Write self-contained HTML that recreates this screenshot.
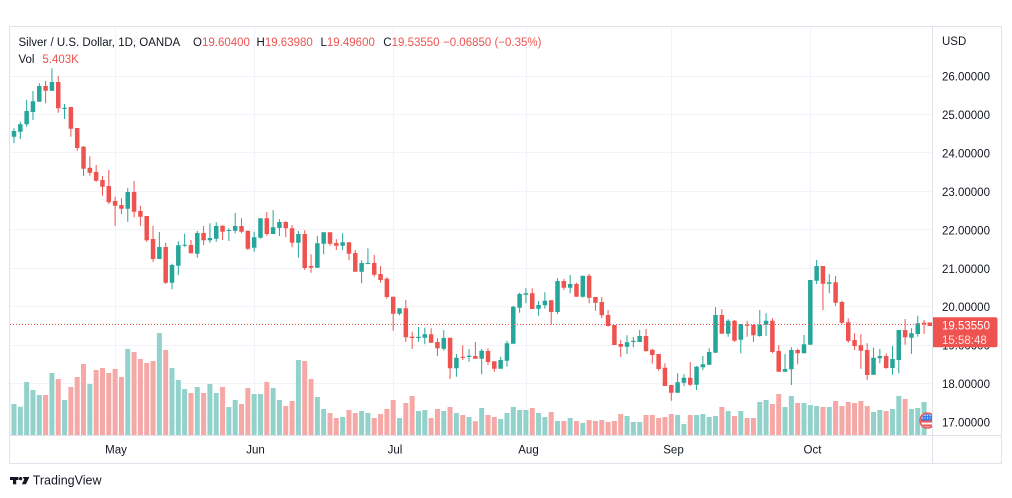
<!DOCTYPE html>
<html>
<head>
<meta charset="utf-8">
<style>
html,body{margin:0;padding:0;background:#fff;}
body{width:1012px;height:498px;overflow:hidden;}
svg{display:block;}
text{font-family:"Liberation Sans",Arial,sans-serif;}
</style>
</head>
<body>
<svg width="1012" height="498" viewBox="0 0 1012 498" xmlns="http://www.w3.org/2000/svg">
<defs>
<clipPath id="pane"><rect x="10" y="27" width="922" height="408"/></clipPath>
<clipPath id="flagc"><circle cx="927.5" cy="420.5" r="6.5"/></clipPath>
</defs>
<rect x="0" y="0" width="1012" height="498" fill="#fff"/>

<!-- grid -->
<g stroke="#f0f3fa" stroke-width="1">
<path d="M10 76.5H932M10 114.5H932M10 152.5H932M10 191.5H932M10 229.5H932M10 268.5H932M10 306.5H932M10 345.5H932M10 383.5H932M10 422.5H932"/>
<path d="M115.5 27V435M254.5 27V435M393.5 27V435M526.5 27V435M671.5 27V435M810.5 27V435"/>
</g>

<g clip-path="url(#pane)">
<g transform="translate(14,0) scale(6.32,1)" fill="none">
<!-- volume teal -->
<path stroke="#92d2cb" stroke-width="5" vector-effect="non-scaling-stroke" d="M-1 383.3V435M0 404V435M1 406.7V435M2 382V435M3 390V435M4 395V435M6 373V435M8 400V435M12 384V435M18 349V435M23 333V435M25 368V435M26 380V435M27 389V435M29 387V435M31 384V435M32 393V435M34 407V435M35 400V435M38 394V435M39 394V435M41 388V435M42 400V435M45 360V435M48 397V435M49 409V435M52 417V435M55 411V435M56 413V435M61 418V435M64 411V435M65 410V435M68 411V435M70 413V435M72 417V435M74 408V435M77 419V435M78 413V435M79 407V435M80 410V435M81 410V435M83 413V435M84 417V435M86 421V435M88 418V435M90 423V435M97 416V435M98 422V435M99 422V435M105 415V435M106 424V435M108 415V435M109 414V435M110 417V435M111 416V435M113 411V435M115 411V435M118 402V435M119 400V435M122 407V435M123 396V435M125 403V435M126 405V435M127 406V435M129 407V435M136 412V435M137 410V435M139 409V435M140 396V435M142 409V435M143 408V435M144 402V435"/>
<!-- volume red -->
<path stroke="#f6a8a6" stroke-width="5" vector-effect="non-scaling-stroke" d="M5 395V435M7 379V435M9 387V435M10 377V435M11 364V435M13 370V435M14 368V435M15 373V435M16 369V435M17 377V435M19 352V435M20 359V435M21 363V435M22 361V435M24 350V435M28 393V435M30 393V435M33 387V435M36 404V435M37 388V435M40 382V435M43 406V435M44 401V435M46 361V435M47 379V435M50 413V435M51 418V435M53 410V435M54 413V435M57 418V435M58 414V435M59 409V435M60 400V435M62 403V435M63 396V435M66 418V435M67 409V435M69 407V435M71 415V435M73 421.3V435M75 415V435M76 417V435M82 408V435M85 412V435M87 421V435M89 421V435M91 420V435M92 421V435M93 420V435M94 422V435M95 421V435M96 414V435M100 415V435M101 415V435M102 418V435M103 417V435M104 414V435M107 415V435M112 407V435M114 416V435M116 418V435M117 418V435M120 404V435M121 394V435M124 403V435M128 407V435M130 401V435M131 406V435M132 402V435M133 403V435M134 401V435M135 406V435M138 411V435M141 399V435"/>

<!-- teal wicks -->
<path stroke="#26a69a" stroke-width="1" vector-effect="non-scaling-stroke" d="M-1 133V145M0 128.3V143.3M1 121.7V139M2 100V126.7M3 91V120M4 83.3V101.7M6 68.3V90.7M8 104V119M18 188V221.7M23 232V259M25 263.7V289.3M26 241.3V275M27 233.7V246.7M29 230.7V257.7M31 223.3V242.7M32 222.3V241.7M34 228.3V241M35 213V233.3M38 231.7V251.7M39 218.3V238.7M41 210V234M42 219.3V236M45 231V257.7M48 236V267.7M49 232.3V254.3M52 233.3V250M55 260.3V283.3M56 248.3V264.3M61 308.3V315.3M64 327V341.7M65 327.7V344.3M68 330V350.7M70 354V376.7M72 349V361.7M74 349V374.3M77 356.7V368.7M78 340.7V366.7M79 305.7V343.7M80 292.7V312.7M81 288.3V303.3M83 301V315.7M84 292.3V308.7M86 278.3V314M88 275V293.3M90 275.7V297.7M97 335.3V354M98 337V347.3M99 330V342M105 373.3V392.7M106 374.3V386M108 366V390M109 356V370M110 348.3V364.7M111 307.3V352.7M113 319.3V336.7M115 324V353.3M118 310V336.7M119 313.3V336M122 354V371.7M123 347.3V385M125 335V353.3M126 280V344.7M127 260V284M129 274.3V293.3M136 347.7V374.7M137 349V363.3M139 346V374.7M140 330V373.3M142 328.3V353.7M143 315.7V336.7"/>
<!-- teal bodies -->
<path stroke="#26a69a" stroke-width="4.5" vector-effect="non-scaling-stroke" d="M-1 136V142M0 131V136.7M1 124.3V131.7M2 111V124.3M3 101.3V112M4 86V101.7M6 82V90.7M8 107.7V109M18 192V208.7M23 247V259M25 265V282.7M26 245.3V265.7M27 244.7V245.7M29 233V253.7M31 238V240.3M32 226V238.7M34 230V231M35 226V230.7M38 237.3V247.7M39 218.3V237.7M41 227.3V234M42 222V228M45 234V242.7M48 243.3V267.7M49 232.3V243.7M52 242.3V245.7M55 263V271.7M56 263V264M61 308.3V313.7M64 336.7V338M65 334.3V337.7M68 338V348.7M70 357.7V368.3M72 355.7V357M74 350.7V358.7M77 360V368.7M78 343.3V360.7M79 306.7V343.7M80 294V307.7M81 293.3V294.7M83 305V308.7M84 300.7V305.3M86 281V312M88 284V287.7M90 275.7V296.7M97 342.3V346.7M98 340.7V342M99 336V342M105 382.3V392.7M106 377.7V382.7M108 366.7V384.7M109 364.3V367.3M110 352V364.7M111 315V352.7M113 320.7V333.7M115 324V339.7M118 324.7V336M119 320.7V324.7M122 369V371.7M123 350V369.3M125 344.3V353.3M126 280V344.7M127 266V280.7M129 282.3V283.7M136 357.7V374.7M137 356V358.3M139 359V368M140 330V360M142 333.3V337.7M143 323.3V334"/>

<!-- red wicks -->
<path stroke="#ef5350" stroke-width="1" vector-effect="non-scaling-stroke" d="M5 81V103.3M7 76V112.7M9 107V136.7M10 128V150.7M11 146V175.7M12 156.3V175.7M13 165V181.7M14 176V195.7M15 170V204M16 196.7V225.7M17 198.3V214M19 181V217.3M20 205.7V225.7M21 216V241.7M22 225.7V261.7M24 242.7V284M28 240V253.3M30 226V245M33 225.3V240M36 218.3V233.3M37 230.7V250M40 212V235.7M43 221.3V237.3M44 225V247.3M46 230.3V270M47 254.3V272.7M50 232.3V245.7M51 239.3V250M53 242.3V260M54 250V271.7M57 255V276.7M58 266V282.7M59 277.3V298.7M60 296.7V330.7M62 300V341.7M63 331.7V348.7M66 328.3V343M67 338.3V356M69 337.7V379M71 345.3V360M73 342V358.7M75 348.3V365M76 361.3V371.7M82 288.3V309M85 300.3V325M87 278.7V290M89 282.7V296.7M91 274V303.3M92 297V310.7M93 297V318.3M94 310V326.7M95 325V345M96 340V357M100 329V351.7M101 349V363.7M102 354V370.7M103 363.3V386M104 385V400.7M107 362V386M112 309.3V333.7M114 320V341.7M116 321V336.7M117 324V342M120 318.3V353.3M121 345.3V371.7M124 348.7V364.3M128 266V310M130 276V306M131 300.7V324M132 318.3V342.7M133 333.3V350M134 334.3V368.7M135 343.3V380M138 353.3V368.7M141 319V344.7M144 320V334"/>
<!-- red bodies -->
<path stroke="#ef5350" stroke-width="4.5" vector-effect="non-scaling-stroke" d="M5 86V90.7M7 82V108.3M9 107V128.7M10 128V148M11 146.7V168.7M12 167.7V172.7M13 172V180.7M14 180V186.7M15 186V202.3M16 201V205.7M17 205V208.7M19 192V211.7M20 211V216.7M21 216V240.3M22 239V259M24 247V282.7M28 245V253.3M30 233V240.3M33 225.7V231.7M36 226V231.7M37 230.7V248.7M40 218.3V234M43 222V228.3M44 228.3V242.7M46 234V268M47 266V267.7M50 232.3V243.7M51 243V245.7M53 242.3V253.7M54 253V271.7M57 263V274.7M58 274V280M59 278.7V297M60 296.7V313.7M62 308.3V337.3M63 336.7V338M66 334.3V342.7M67 342V348.3M69 337.7V368.3M71 356.7V357.7M73 356V358.7M75 351V362M76 361.3V368.7M82 293.3V309M85 300.3V312M87 281V287.7M89 284V296.7M91 275.7V297.7M92 297V302.7M93 302V315.3M94 315V326M95 325V345M96 344V346.7M100 336V351M101 349.7V355M102 354V369M103 367.7V386M104 385V392.7M107 377.7V384.7M112 315V333.7M114 320.7V340.7M116 324.7V325.7M117 325V335.3M120 320.7V352M121 351V371.7M124 350V353.3M128 266V283.7M130 282.3V302.7M131 302V322.7M132 322.3V341M133 340V346M134 345.3V350.7M135 350V375M138 356V368M141 330V337.3M144 322.7V324.3"/>
</g>

<!-- current price dotted line -->
<path d="M10 324.5H932" stroke="#ef5350" stroke-width="1" stroke-dasharray="1 2"/>
<rect x="927.5" y="322.5" width="4.5" height="3.5" fill="#ef5350"/>

<!-- event flag icon -->
<circle cx="927.5" cy="420.5" r="7.5" fill="#fff" stroke="#ef5350" stroke-width="1.6"/>
<g clip-path="url(#flagc)">
<rect x="920" y="413" width="15" height="7.5" fill="#3a7bf0"/>
<g fill="#fff">
<rect x="922" y="415" width="1" height="1"/><rect x="924.5" y="415" width="1" height="1"/><rect x="927" y="415" width="1" height="1"/><rect x="929.5" y="415" width="1" height="1"/>
<rect x="922" y="417.5" width="1" height="1"/><rect x="924.5" y="417.5" width="1" height="1"/><rect x="927" y="417.5" width="1" height="1"/><rect x="929.5" y="417.5" width="1" height="1"/>
</g>
<rect x="920" y="420.5" width="15" height="2" fill="#ef5350"/>
<rect x="920" y="424.5" width="15" height="2" fill="#ef5350"/>
</g>
</g>

<!-- frame -->
<g stroke="#e0e3eb" stroke-width="1" fill="none">
<rect x="9.5" y="26.5" width="992" height="437"/>
<path d="M932.5 26V463M9 435.5H1002"/>
</g>

<!-- header -->
<text x="18.5" y="46" font-size="11.5" fill="#131722">Silver / U.S. Dollar, 1D, OANDA</text>
<text x="193" y="46" font-size="11.5" fill="#131722">O<tspan fill="#ef5350">19.60400</tspan></text>
<text x="256.5" y="46" font-size="11.5" fill="#131722">H<tspan fill="#ef5350">19.63980</tspan></text>
<text x="320.5" y="46" font-size="11.5" fill="#131722">L<tspan fill="#ef5350">19.49600</tspan></text>
<text x="383.3" y="46" font-size="11.5" fill="#131722">C<tspan fill="#ef5350">19.53550</tspan></text>
<text x="443" y="46" font-size="11.5" fill="#ef5350">−0.06850 (−0.35%)</text>
<text x="18.5" y="63" font-size="11.5" fill="#131722">Vol</text>
<text x="42.4" y="63" font-size="11.5" fill="#ef5350">5.403K</text>

<!-- price axis -->
<g font-size="11.5" fill="#131722">
<text x="942" y="45">USD</text>
<text x="942" y="80.5">26.00000</text>
<text x="942" y="119">25.00000</text>
<text x="942" y="157.4">24.00000</text>
<text x="942" y="195.9">23.00000</text>
<text x="942" y="234.3">22.00000</text>
<text x="942" y="272.8">21.00000</text>
<text x="942" y="311.2">20.00000</text>
<text x="942" y="349.7">19.00000</text>
<text x="942" y="388.1">18.00000</text>
<text x="942" y="426.6">17.00000</text>
</g>
<path d="M933 317.3H995.5Q997.5 317.3 997.5 319.3V345.3Q997.5 347.3 995.5 347.3H933Z" fill="#ef5350"/>
<text x="942" y="329.5" font-size="11.5" fill="#fff">19.53550</text>
<text x="942" y="344" font-size="11.5" fill="#fde3e2">15:58:48</text>

<!-- time axis -->
<g font-size="11.5" fill="#131722" text-anchor="middle">
<text x="116" y="453.3">May</text>
<text x="255.5" y="453.3">Jun</text>
<text x="395" y="453.3">Jul</text>
<text x="528.5" y="453.3">Aug</text>
<text x="673.5" y="453.3">Sep</text>
<text x="812.5" y="453.3">Oct</text>
</g>

<!-- TradingView logo -->
<g fill="#131722">
<rect x="10" y="477" width="8.5" height="3"/>
<rect x="13" y="477" width="3.2" height="7.3"/>
<circle cx="20.6" cy="478.6" r="1.6"/>
<path d="M22.8 477H29.4L25.9 484.3H21.8L24.2 479.6Z"/>
</g>
<text x="32.7" y="484.3" font-size="12.5" fill="#131722">TradingView</text>
</svg>
</body>
</html>
